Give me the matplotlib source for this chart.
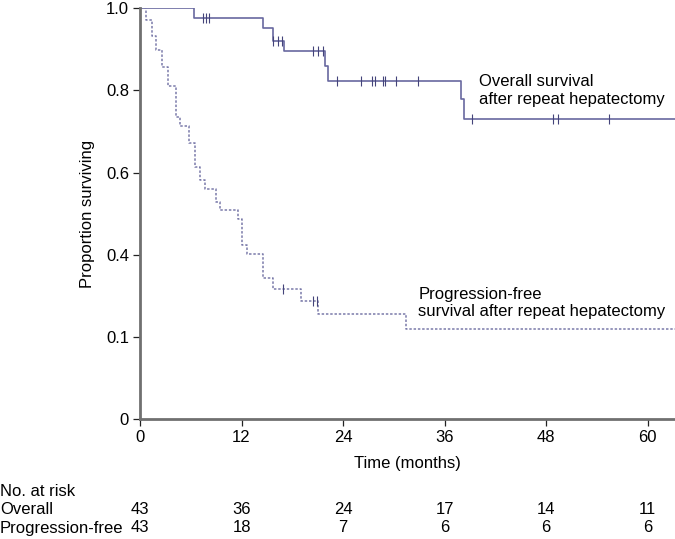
import numpy as np
import matplotlib
matplotlib.use('Agg')
import matplotlib.pyplot as plt
import matplotlib.transforms as mtransforms

plt.rcParams['font.family'] = ['Liberation Sans', 'DejaVu Sans']

# overall survival: event times (months) and survival after each step
os_times = [0, 6.4, 14.6, 15.7, 17.0, 21.9, 22.2, 37.9, 38.3, 64]
os_surv = [1.0, 0.977, 0.952, 0.921, 0.895, 0.860, 0.823, 0.779, 0.730, 0.730]
os_censor = [7.4, 7.8, 8.1, 15.7, 16.3, 16.8, 20.4, 21.1, 21.6, 23.3, 26.1,
             27.4, 27.8, 28.7, 29.0, 30.3, 32.9, 39.3, 48.8, 49.4, 55.5]

# progression-free survival
pfs_times = [0, 0.7, 1.4, 1.9, 2.6, 3.35, 4.3, 4.7, 5.8, 6.5, 7.1, 7.7, 8.95,
             9.4, 11.6, 12.1, 12.7, 14.5, 15.7, 19.0, 21.1, 31.4, 64]
pfs_surv = [1.0, 0.972, 0.933, 0.898, 0.858, 0.811, 0.736, 0.713, 0.671, 0.614,
            0.582, 0.559, 0.529, 0.510, 0.486, 0.423, 0.401, 0.343, 0.316,
            0.287, 0.255, 0.218, 0.218]
pfs_censor = [16.9, 20.4, 20.9]

yticks = [0, 0.2, 0.4, 0.6, 0.8, 1.0]
ytick_labels = ['0', '0.1', '0.4', '0.6', '0.8', '1.0']
xticks = [0, 12, 24, 36, 48, 60]

risk_rows = ['Overall', 'Progression-free']
risk_overall = [43, 36, 24, 17, 14, 11]
risk_pfs = [43, 18, 7, 6, 6, 6]


def surv_at(times, surv, t):
    i = np.searchsorted(times, t, side='right') - 1
    return np.array(surv)[i]


line_col = '#6868a0'
mark_col = '#44447a'
spine_col = '#707070'
fs = 12

fig = plt.figure(figsize=(6.75, 5.39), dpi=100)
ax = fig.add_axes([140 / 675, 1 - 419 / 539, 1 - 140 / 675, (419 - 8.3) / 539])

ax.step(os_times, os_surv, where='post', color=line_col, lw=1.2)
ax.step(pfs_times, pfs_surv, where='post', color='#7a7aaa', lw=1.1,
        linestyle=(0, (1.6, 1.2)))
ax.plot(os_censor, surv_at(os_times, os_surv, os_censor), '|', color=mark_col,
        ms=6.5, mew=0.8)
ax.plot(pfs_censor, surv_at(pfs_times, pfs_surv, pfs_censor), '|', color=mark_col,
        ms=6.5, mew=0.8)

ax.set_xlim(0, 63.25)
ax.set_ylim(0, 1.0)
ax.set_xticks(xticks)
ax.set_yticks(yticks)
ax.set_yticklabels(ytick_labels)
ax.tick_params(labelsize=fs, length=5, width=0.9, color='#222222', pad=3)

for s in ['top', 'right']:
    ax.spines[s].set_visible(False)
for s in ['left', 'bottom']:
    ax.spines[s].set_color(spine_col)
    ax.spines[s].set_linewidth(2.0)

ax.set_ylabel('Proportion surviving', fontsize=fs, labelpad=8)
ax.set_xlabel('Time (months)', fontsize=fs, labelpad=8)

ax.text(40.1, 0.80, 'Overall survival\nafter repeat hepatectomy', fontsize=fs,
        va='center', ha='left', linespacing=1.2)
ax.text(32.9, 0.283, 'Progression-free\nsurvival after repeat hepatectomy', fontsize=fs,
        va='center', ha='left', linespacing=1.2)

# number at risk table
trans = mtransforms.blended_transform_factory(ax.transData, fig.transFigure)
fig.text(0.0, 1 - 492 / 539, 'No. at risk', fontsize=fs, va='center', ha='left')
for row, counts, ypx in [(risk_rows[0], risk_overall, 510), (risk_rows[1], risk_pfs, 528)]:
    fig.text(0.0, 1 - ypx / 539, row, fontsize=fs, va='center', ha='left')
    for t, n in zip(xticks, counts):
        ax.text(t, 1 - ypx / 539, str(n), transform=trans, fontsize=fs,
                va='center', ha='center')

fig.savefig('out.png', dpi=100)
